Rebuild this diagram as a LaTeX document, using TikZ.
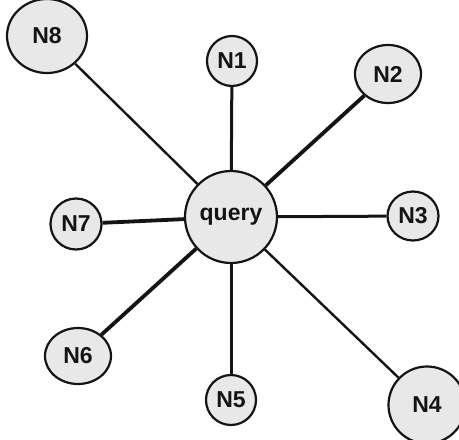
\documentclass[tikz,border=0pt]{standalone}
\usepackage{fontspec}
\setmainfont{Liberation Sans}
\usetikzlibrary{shapes.geometric}
\definecolor{nodefill}{HTML}{E8E8E8}
\definecolor{ink}{HTML}{141414}
\begin{document}
\begin{tikzpicture}[x=1pt,y=-1pt,
  vertex/.style={ellipse,draw=ink,line width=2.2pt,fill=nodefill,inner sep=0pt,
    label={[font=\fontsize{23}{25}\selectfont\bfseries,text=ink]center:#1}},
  link/.style={draw=ink,line width=3pt},
  thin link/.style={draw=ink,line width=2.4pt},
  thick link/.style={draw=ink,line width=3.8pt}]
\useasboundingbox (0,0) rectangle (459,440);
% hub
\node[vertex=query,minimum width=92pt,minimum height=92pt] (q) at (231,217) {};
% surrounding nodes
\node[vertex=N1,minimum width=50pt,minimum height=50pt] (n1) at (232,61) {};
\node[vertex=N2,minimum width=66pt,minimum height=58pt] (n2) at (388,74) {};
\node[vertex=N3,minimum width=51pt,minimum height=49pt] (n3) at (413,216) {};
\node[vertex=N4,minimum width=77pt,minimum height=77pt] (n4) at (427,405) {};
\node[vertex=N5,minimum width=50pt,minimum height=50pt] (n5) at (231,400) {};
\node[vertex=N6,minimum width=66pt,minimum height=56pt] (n6) at (78,356) {};
\node[vertex=N7,minimum width=51pt,minimum height=51pt] (n7) at (76,224) {};
\node[vertex=N8,minimum width=80pt,minimum height=74pt] (n8) at (47,36) {};
% spokes from the hub
\draw[link] (q) -- (n1);
\draw[thick link] (q) -- (n2);
\draw[link] (q) -- (n3);
\draw[thin link] (q) -- (n4);
\draw[link] (q) -- (n5);
\draw[thick link] (q) -- (n6);
\draw[thick link] (q) -- (n7);
\draw[thin link] (q) -- (n8);
\end{tikzpicture}
\end{document}
